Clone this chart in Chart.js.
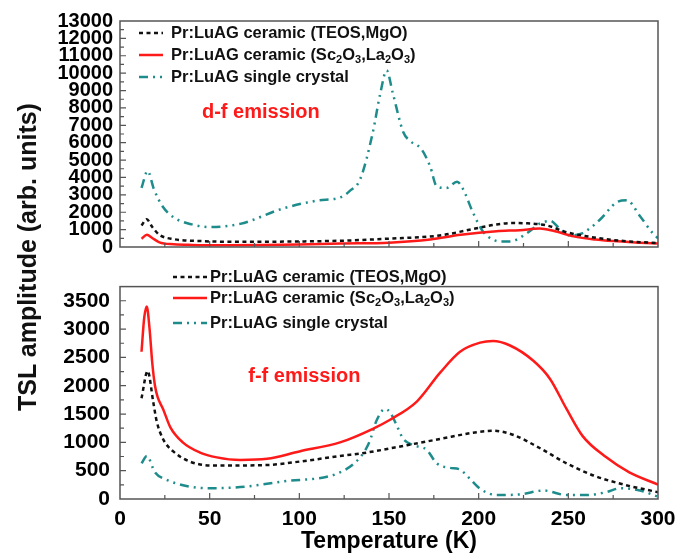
<!DOCTYPE html>
<html>
<head>
<meta charset="utf-8">
<script src="https://cdn.jsdelivr.net/npm/chart.js@4.4.0/dist/chart.umd.min.js"></script>
<style>
  body { margin: 0; background: #fff; }
  #wrap { position: relative; width: 692px; height: 555px; overflow: hidden; }
  #topChart { position: absolute; left: 0; top: 0; }
  #botChart { position: absolute; left: 0; top: 264px; }
  #ytitle {
    position: absolute; left: -172px; top: 242px; width: 400px; height: 30px;
    line-height: 30px; text-align: center; transform: rotate(-90deg);
    font: bold 25px "Liberation Sans", Arial, sans-serif; color: #111;
  }
</style>
</head>
<body>
<div id="wrap">
  <canvas id="topChart" width="692" height="266"></canvas>
  <canvas id="botChart" width="692" height="291"></canvas>
  <div id="ytitle">TSL amplitude (arb. units)</div>
</div>
<script>
// labels (_x = subscript char)
const seriesLabels = [
  'Pr:LuAG ceramic (TEOS,MgO)',
  'Pr:LuAG ceramic (Sc_2O_3,La_2O_3)',
  'Pr:LuAG single crystal'
];

// tick labels
const xTicks = [0, 50, 100, 150, 200, 250, 300];
const topYTicks = [0, 1000, 2000, 3000, 4000, 5000, 6000, 7000, 8000, 9000, 10000, 11000, 12000, 13000];
const botYTicks = [0, 500, 1000, 1500, 2000, 2500, 3000, 3500];

// d-f emission (top panel)
const dfTeosT = [12, 14.9, 18, 22, 30, 45, 70, 100, 123, 150, 178, 200.8, 210, 219, 227, 238, 249, 260, 275, 290, 300];
const dfTeosY = [1240, 1600, 1150, 700, 450, 340, 300, 320, 360, 480, 660, 1120, 1300, 1380, 1360, 1240, 850, 620, 400, 280, 230];
const dfScT = [12, 15, 18, 22, 30, 40, 60, 80, 100, 123, 150, 173, 190, 210, 223, 234, 241.6, 253, 265, 275, 290, 300];
const dfScY = [480, 700, 520, 270, 160, 120, 100, 110, 140, 200, 250, 430, 700, 910, 970, 1060, 930, 610, 430, 340, 250, 200];
const dfXtalT = [12, 15.4, 19, 24, 30, 40, 50, 67, 91, 110, 122.7, 128, 134, 141, 145, 148.7, 152, 158, 162, 168, 173, 176.6, 182, 188, 191, 197, 202.6, 208, 212, 217.5, 227, 234, 240, 245, 251, 258, 268, 277, 282.6, 290, 297, 300];
const dfXtalY = [3400, 4370, 3300, 2300, 1700, 1300, 1150, 1330, 2220, 2670, 2850, 3210, 3920, 6600, 8760, 10160, 8900, 6600, 6080, 5640, 4620, 3490, 3390, 3760, 3390, 1940, 860, 420, 320, 320, 800, 1340, 1500, 1070, 660, 800, 1610, 2580, 2690, 1770, 800, 500];

// f-f emission (bottom panel)
const ffTeosT = [12, 15.4, 18.6, 20.4, 24, 29.7, 39, 52, 82, 100, 122.7, 137.6, 160, 178.5, 197, 208, 219, 234, 249, 264, 280.7, 300];
const ffTeosY = [1780, 2260, 1700, 1380, 1060, 840, 660, 590, 600, 660, 760, 820, 950, 1060, 1170, 1205, 1135, 900, 630, 415, 256, 120];
const ffScT = [12, 13.5, 14.9, 16.5, 18, 19.5, 21, 24, 28, 35, 44.6, 54, 67, 82, 100, 122.7, 141, 150.6, 165.5, 178.5, 189.6, 200.8, 208, 217.5, 230.5, 239.8, 249, 258, 271, 284, 300];
const ffScY = [2600, 3200, 3400, 3000, 2400, 2000, 1800, 1590, 1270, 1000, 820, 735, 690, 710, 840, 1000, 1240, 1400, 1720, 2230, 2600, 2760, 2790, 2710, 2440, 2120, 1590, 1110, 740, 470, 256];
const ffXtalT = [12, 15, 19.5, 26, 37, 50, 67, 91, 122.7, 134, 139, 143, 147.8, 150.6, 154, 158, 163.6, 171, 176.6, 184, 189.6, 195, 200.8, 210, 223, 236, 249, 260, 271, 279, 290, 300];
const ffXtalY = [630, 760, 470, 340, 230, 190, 210, 310, 470, 740, 1000, 1380, 1590, 1530, 1320, 1060, 950, 870, 630, 550, 520, 360, 180, 70, 80, 150, 70, 70, 120, 190, 150, 40];

const RED = '#ff1a1a';
const TEAL = '#1f8c8c';
const FONT = '"Liberation Sans", Arial, sans-serif';
Chart.defaults.font.family = FONT;
Chart.defaults.color = '#000';

function pts(xs, ys) { return xs.map((x, i) => ({x: x, y: ys[i]})); }
function fixTicks(vals) { return s => { s.ticks = vals.map(v => ({value: v})); }; }

function makeSets(t1, y1, t2, y2, t3, y3) {
  const base = {borderWidth: 2.5, pointRadius: 0, fill: false, cubicInterpolationMode: 'monotone'};
  return [
    Object.assign({label: seriesLabels[0], data: pts(t1, y1), borderColor: '#111', borderDash: [4, 3.5]}, base),
    Object.assign({label: seriesLabels[1], data: pts(t2, y2), borderColor: RED}, base),
    Object.assign({label: seriesLabels[2], data: pts(t3, y3), borderColor: TEAL, borderDash: [9, 5, 2, 5, 2, 5]}, base)
  ];
}

// frame and inward ticks
const frameTicks = {
  id: 'frameTicks',
  afterDatasetsDraw(chart, args, o) {
    const ctx = chart.ctx, a = chart.chartArea, sx = chart.scales.x, sy = chart.scales.y;
    ctx.save();
    ctx.strokeStyle = '#555';
    ctx.lineWidth = 1.5;
    ctx.strokeRect(a.left, a.top, a.right - a.left, a.bottom - a.top);
    ctx.lineWidth = 1.2;
    ctx.beginPath();
    for (let t = 25; t < 300; t += 25) {
      const x = sx.getPixelForValue(t);
      ctx.moveTo(x, a.bottom);
      ctx.lineTo(x, a.bottom - (t % 50 === 0 ? 6 : 4));
    }
    for (let v = o.minor; v < sy.max; v += o.minor) {
      const y = sy.getPixelForValue(v);
      ctx.moveTo(a.left, y);
      ctx.lineTo(a.left + (v % o.major === 0 ? 6 : 4), y);
    }
    ctx.stroke();
    ctx.restore();
  }
};

// legend inside the plot, with subscripts
const inLegend = {
  id: 'inLegend',
  afterDraw(chart, args, o) {
    const ctx = chart.ctx;
    chart.data.datasets.forEach((ds, i) => {
      const y = o.rows[i];
      ctx.save();
      ctx.strokeStyle = ds.borderColor;
      ctx.lineWidth = ds.borderWidth;
      ctx.setLineDash(ds.borderDash || []);
      ctx.beginPath();
      ctx.moveTo(o.x0, y);
      ctx.lineTo(o.x1, y);
      ctx.stroke();
      ctx.setLineDash([]);
      ctx.fillStyle = '#111';
      ctx.textBaseline = 'middle';
      let x = o.tx;
      const s = ds.label;
      for (let k = 0; k < s.length; k++) {
        if (s[k] === '_') {
          k++;
          ctx.font = 'bold 11px ' + FONT;
          ctx.fillText(s[k], x, y + 5);
        } else {
          ctx.font = 'bold ' + o.size + 'px ' + FONT;
          ctx.fillText(s[k], x, y);
        }
        x += ctx.measureText(s[k]).width;
      }
      ctx.restore();
    });
  }
};

const panelText = {
  id: 'panelText',
  afterDraw(chart, args, o) {
    const ctx = chart.ctx;
    ctx.save();
    ctx.fillStyle = RED;
    ctx.font = 'bold 20px ' + FONT;
    ctx.textBaseline = 'alphabetic';
    ctx.fillText(o.text, chart.scales.x.getPixelForValue(o.x), chart.scales.y.getPixelForValue(o.y));
    ctx.restore();
  }
};

new Chart(document.getElementById('topChart'), {
  type: 'line',
  data: {datasets: makeSets(dfTeosT, dfTeosY, dfScT, dfScY, dfXtalT, dfXtalY)},
  options: {
    responsive: false,
    animation: false,
    layout: {padding: {top: 21, right: 34, bottom: 2, left: 0}},
    plugins: {
      legend: {display: false},
      tooltip: {enabled: false},
      frameTicks: {major: 1000, minor: 500},
      inLegend: {rows: [33, 55, 77], x0: 139, x1: 163, tx: 171, size: 16.5},
      panelText: {text: 'd-f emission', x: 45.7, y: 7400}
    },
    scales: {
      x: {type: 'linear', display: false, min: 0, max: 300},
      y: {
        min: 0, max: 13000,
        afterFit: s => { s.width = 120; },
        afterBuildTicks: fixTicks(topYTicks),
        grid: {display: false, drawTicks: false},
        border: {display: false},
        ticks: {autoSkip: false, padding: 7, callback: v => String(v), font: {size: 20, weight: 'bold'}}
      }
    }
  },
  plugins: [frameTicks, inLegend, panelText]
});

new Chart(document.getElementById('botChart'), {
  type: 'line',
  data: {datasets: makeSets(ffTeosT, ffTeosY, ffScT, ffScY, ffXtalT, ffXtalY)},
  options: {
    responsive: false,
    animation: false,
    layout: {padding: {top: 1, right: 34, bottom: 0, left: 0}},
    plugins: {
      legend: {display: false},
      tooltip: {enabled: false},
      frameTicks: {major: 500, minor: 250},
      inLegend: {rows: [13, 34, 59], x0: 173, x1: 207, tx: 210, size: 16.5},
      panelText: {text: 'f-f emission', x: 71.5, y: 2060}
    },
    scales: {
      x: {
        type: 'linear', min: 0, max: 300,
        afterFit: s => { s.height = 56; },
        afterBuildTicks: fixTicks(xTicks),
        grid: {display: false, drawTicks: false},
        border: {display: false},
        ticks: {autoSkip: false, padding: 8, callback: v => String(v), font: {size: 21, weight: 'bold'}},
        title: {display: true, text: 'Temperature (K)', padding: 0, font: {size: 23, weight: 'bold'}}
      },
      y: {
        min: 0, max: 3750,
        afterFit: s => { s.width = 120; },
        afterBuildTicks: fixTicks(botYTicks),
        grid: {display: false, drawTicks: false},
        border: {display: false},
        ticks: {autoSkip: false, padding: 10, callback: v => String(v), font: {size: 21, weight: 'bold'}}
      }
    }
  },
  plugins: [frameTicks, inLegend, panelText]
});
</script>
</body>
</html>
